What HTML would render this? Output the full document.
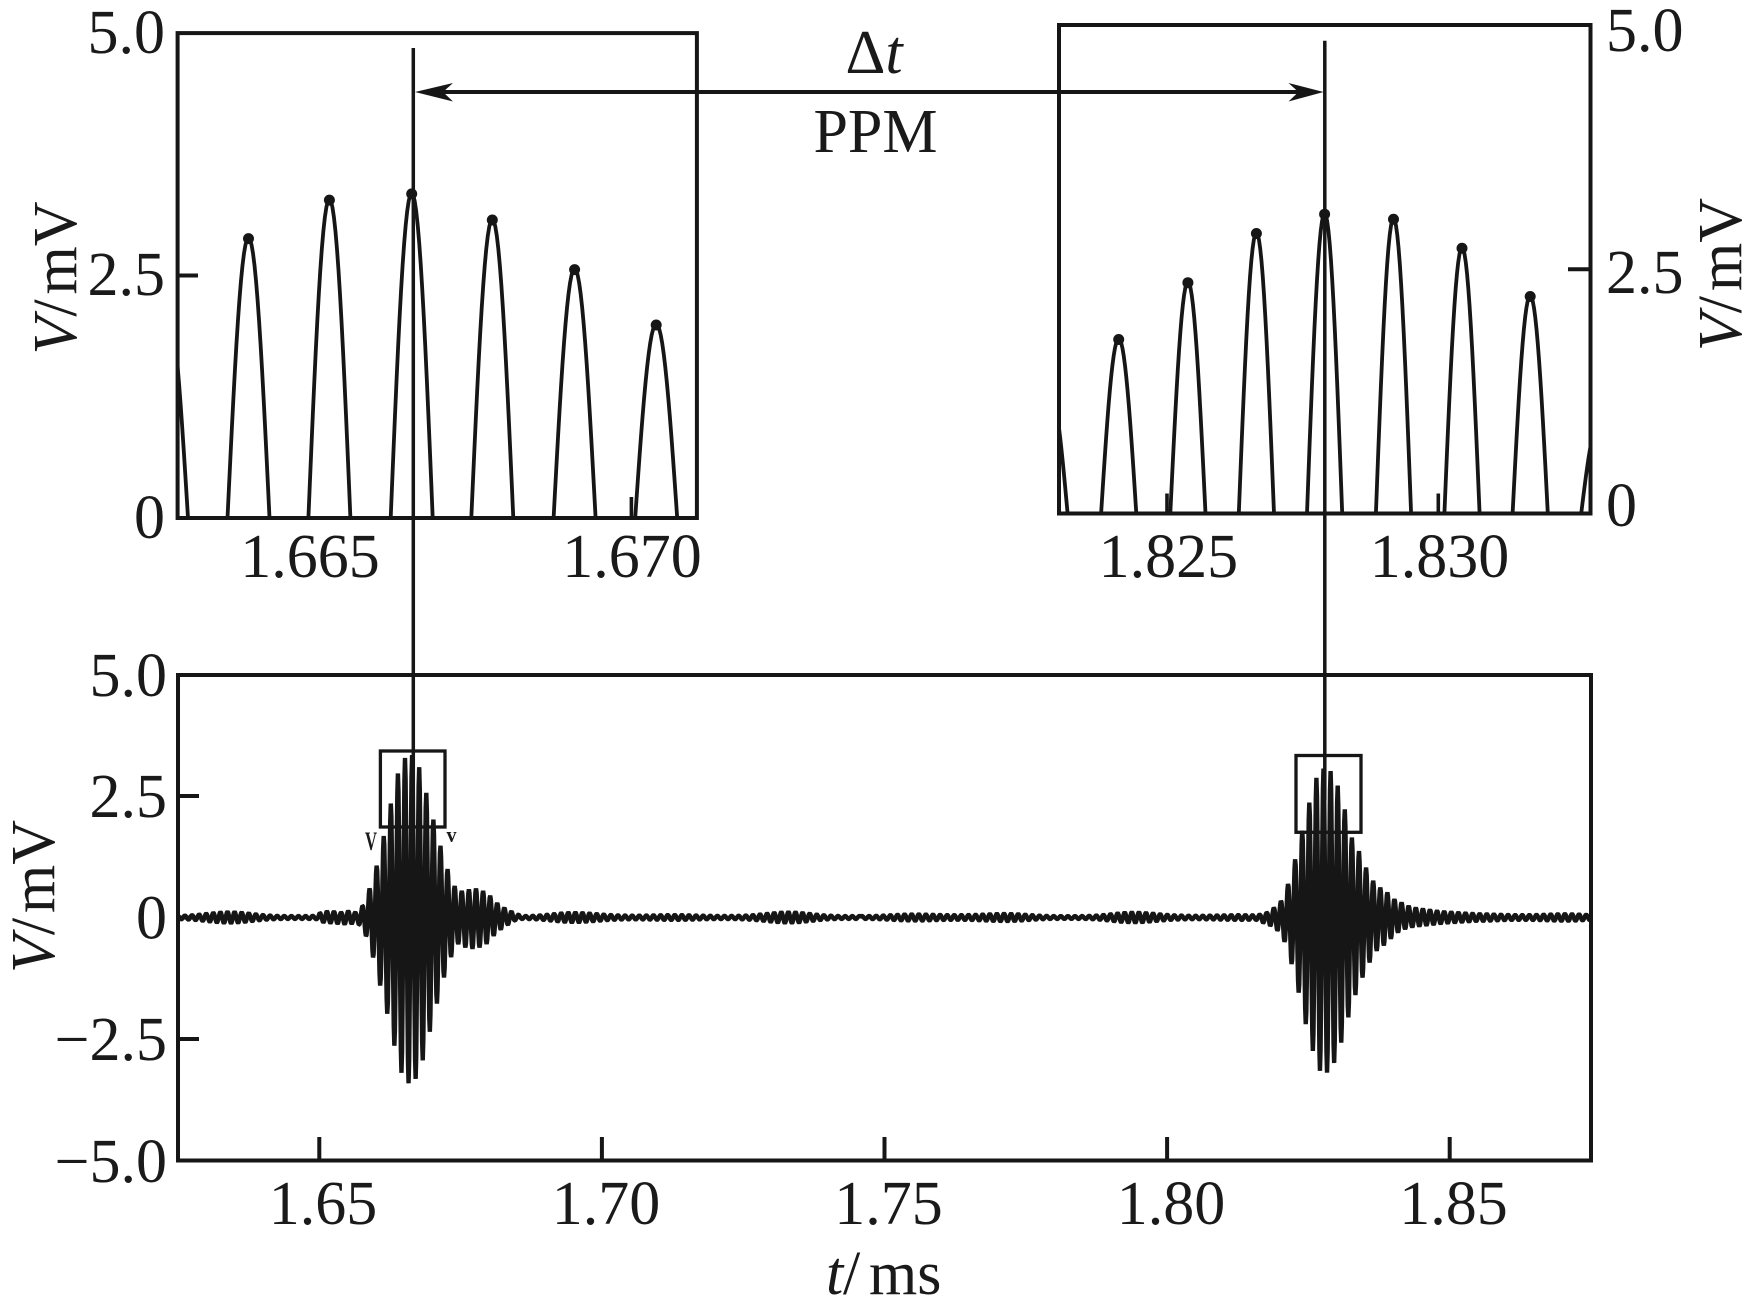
<!DOCTYPE html>
<html><head><meta charset="utf-8">
<style>
html,body{margin:0;padding:0;background:#fff;}
svg{display:block;}
text{font-family:"Liberation Serif","Times New Roman",serif;fill:#1a1a1a;font-size:62px;}
</style></head><body>
<svg id="s" width="1760" height="1313" viewBox="0 0 1760 1313" xmlns="http://www.w3.org/2000/svg">
<defs>
<clipPath id="cl"><rect x="178" y="33" width="519" height="485"/></clipPath>
<clipPath id="cr"><rect x="1059" y="25" width="531.5" height="488.5"/></clipPath>
<clipPath id="cm"><rect x="178" y="675" width="1413" height="485.5"/></clipPath>
</defs>
<rect x="0" y="0" width="1760" height="1313" fill="#fff"/>

<!-- signals -->
<path id="sig" clip-path="url(#cm)" fill="none" stroke="#161616" stroke-width="4.4" stroke-linejoin="bevel" d=""/>
<path id="insL" clip-path="url(#cl)" fill="none" stroke="#161616" stroke-width="3.8" stroke-linejoin="round" d=""/>
<path id="insR" clip-path="url(#cr)" fill="none" stroke="#161616" stroke-width="3.8" stroke-linejoin="round" d=""/>
<g id="dots" fill="#161616"></g>

<!-- frames & ticks -->
<g fill="none" stroke="#161616" stroke-width="4">
<rect x="177.6" y="33.1" width="519.3" height="484.9"/>
<rect x="1059" y="25" width="531.5" height="488.5"/>
<rect x="178" y="675" width="1413" height="485.5"/>
<path d="M178 796H199M178 1039H199M178 917.5H199"/>
<path d="M319.3 1160V1137M601.9 1160V1137M884.5 1160V1137M1167.1 1160V1137M1449.7 1160V1137"/>
<path d="M177.6 275.5H198"/>
<path d="M1590.5 269.3H1568"/>
</g>
<g fill="none" stroke="#161616" stroke-width="3.6">
<path d="M631.4 497V518M1167 493.5V513.5M1438.3 493.5V513.5"/>
</g>
<!-- vertical marker lines -->
<g fill="none" stroke="#161616" stroke-width="3.5">
<path d="M413.3 48V800"/>
<path d="M1324.8 40.7V800"/>
</g>
<!-- small boxes -->
<g fill="none" stroke="#161616" stroke-width="3.3">
<rect x="380.4" y="751" width="64.6" height="76"/>
<rect x="1296" y="755.5" width="65" height="76.8"/>
</g>
<!-- arrow -->
<path d="M440 92H1300" stroke="#161616" stroke-width="4" fill="none"/>
<polygon points="415,92 453,83 443,92 453,101.5" fill="#161616"/>
<polygon points="1323.6,92 1288.5,83 1298.5,92 1288.5,101.5" fill="#161616"/>

<!-- small V marks -->
<text x="365" y="850" style="font-size:26px;font-weight:bold" textLength="12" lengthAdjust="spacingAndGlyphs">V</text>
<text x="446.5" y="842" style="font-size:22px;font-weight:bold" textLength="10" lengthAdjust="spacingAndGlyphs">v</text>

<!-- main axis labels -->
<g text-anchor="end">
<text x="167" y="696">5.0</text>
<text x="167" y="817">2.5</text>
<text x="167" y="938.5">0</text>
<text x="167" y="1060">−2.5</text>
<text x="167" y="1182">−5.0</text>
</g>
<g text-anchor="middle">
<text x="323" y="1224">1.65</text>
<text x="606" y="1224">1.70</text>
<text x="888.5" y="1224">1.75</text>
<text x="1171" y="1224">1.80</text>
<text x="1453.5" y="1224">1.85</text>
</g>
<text x="826" y="1294" font-style="italic">t</text>
<text x="843" y="1294">/</text>
<text x="869" y="1294">ms</text>
<text transform="translate(54,896.5) rotate(-90)" text-anchor="middle"><tspan font-style="italic">V</tspan>/<tspan dx="5">mV</tspan></text>

<!-- left inset labels -->
<g text-anchor="end">
<text x="165" y="53">5.0</text>
<text x="165" y="295">2.5</text>
<text x="165" y="538">0</text>
</g>
<g text-anchor="middle">
<text x="310" y="577">1.665</text>
<text x="632" y="577">1.670</text>
<text x="1168.4" y="577">1.825</text>
<text x="1439.5" y="577">1.830</text>
</g>
<text transform="translate(76,278) rotate(-90)" text-anchor="middle"><tspan font-style="italic">V</tspan>/<tspan dx="5">mV</tspan></text>

<!-- right inset labels -->
<g text-anchor="start">
<text x="1606" y="51">5.0</text>
<text x="1606" y="293">2.5</text>
<text x="1606" y="526">0</text>
</g>
<text transform="translate(1741,274.6) rotate(-90)" text-anchor="middle"><tspan font-style="italic">V</tspan>/<tspan dx="5">mV</tspan></text>

<!-- annotation -->
<text x="874" y="73" text-anchor="middle">Δ<tspan font-style="italic">t</tspan></text>
<text x="875.5" y="152" text-anchor="middle">PPM</text>
</svg>
<script>
(function(){
var P=7.1, Y0=917.5, K=48.5;
function interp(arr,x){
  if(x<=arr[0][0]) return arr[0][1];
  var n=arr.length; if(x>=arr[n-1][0]) return arr[n-1][1];
  for(var i=1;i<n;i++){ if(x<=arr[i][0]){ var a=arr[i-1],b=arr[i]; return a[1]+(b[1]-a[1])*(x-a[0])/(b[0]-a[0]); } }
  return 0;
}
var posL=[[178,0],[316,0],[320,0.1],[330,0.14],[340,0.1],[350,0.14],[356,0.1],[362,0.22],[369.5,0.6],[376.6,1.07],[383.7,1.68],[390.8,2.35],[397.9,2.97],[405,3.29],[412.1,3.35],[419.2,3.1],[426.3,2.57],[433.4,2.02],[440.5,1.48],[447.6,1.0],[454.7,0.65],[461.8,0.55],[468.9,0.58],[476,0.6],[483.1,0.55],[490.2,0.45],[497.3,0.3],[504.4,0.2],[512,0.12],[525,0]];
var negL=[[178,0],[316,0],[323,0.1],[344,0.14],[358,0.12],[365.9,0.38],[373,0.82],[380.1,1.4],[387.2,1.98],[394.3,2.64],[401.4,3.2],[408.5,3.42],[415.6,3.33],[422.7,2.95],[429.8,2.36],[436.9,1.78],[444,1.24],[451.1,0.82],[458.2,0.55],[465.3,0.62],[472.4,0.65],[479.5,0.62],[486.6,0.55],[493.7,0.38],[500.8,0.25],[508,0.15],[520,0]];
var posR=[[1245,0],[1259.6,0.06],[1266.7,0.1],[1273.8,0.2],[1280.9,0.34],[1288,0.69],[1295.1,1.2],[1302.2,1.79],[1309.3,2.37],[1316.4,2.88],[1323.5,3.07],[1330.6,3.02],[1337.7,2.72],[1344.8,2.23],[1351.9,1.65],[1359,1.37],[1366.1,1.03],[1373.2,0.76],[1380.3,0.62],[1387.4,0.52],[1394.5,0.38],[1401.6,0.31],[1408.7,0.24],[1415.8,0.2],[1440,0.13],[1460,0.1],[1490,0.06],[1500,0]];
var negR=[[1250,0],[1262,0.1],[1270.25,0.17],[1277.35,0.27],[1284.45,0.5],[1291.55,0.96],[1298.65,1.55],[1305.75,2.2],[1312.85,2.75],[1319.95,3.16],[1327.05,3.2],[1334.15,3.0],[1341.25,2.58],[1348.35,2.06],[1355.45,1.6],[1362.55,1.24],[1369.65,0.93],[1376.75,0.69],[1383.85,0.58],[1390.95,0.44],[1398.05,0.31],[1405.15,0.24],[1412.25,0.2],[1440,0.13],[1460,0.1],[1490,0.06],[1500,0]];
function noise(x){ var a=0.5+0.5*Math.sin(x*0.045+0.7)*Math.sin(x*0.011+2.1); return 0.03+0.09*a*a; }
var pts=[];
function addRange(peak0,x0,x1,pos,neg){
  var st=P/12;
  var i0=Math.ceil((x0-peak0)/st), i1=Math.floor((x1-peak0)/st);
  for(var i=i0;i<=i1;i++){
    var x=peak0+i*st;
    var v=Math.cos(2*Math.PI*(x-peak0)/P);
    var nz=noise(x);
    var a=v>0?Math.max(interp(pos,x),nz):Math.max(interp(neg,x),nz);
    pts.push([x,Y0-a*v*K]);
  }
}
addRange(405,176,860,posL,negL);
addRange(1323.5,860,1593,posR,negR);
var d='';
for(var j=0;j<pts.length;j++){ d+=(j?'L':'M')+pts[j][0].toFixed(2)+' '+pts[j][1].toFixed(2); }
document.getElementById('sig').setAttribute('d',d);

function arches(peaks,base,h){
  var dd='';
  for(var k=0;k<peaks.length;k++){
    var p=peaks[k][0], V=base-peaks[k][1];
    var n=30;
    for(var i=0;i<=n;i++){
      var t=-1.08+2.16*i/n;
      var x=p+t*h;
      var y=base-V*Math.cos(Math.PI/2*t);
      dd+=(i?'L':'M')+x.toFixed(2)+' '+y.toFixed(2);
    }
  }
  return dd;
}
var pkL=[[248.5,237.6],[329.4,199.1],[411.7,192.9],[492.3,219],[574.6,268.6],[656.2,324]];
var pkR=[[1118.7,338.5],[1187.9,281.7],[1256.4,232.5],[1324.6,213.2],[1393.5,218.3],[1462,247.3],[1530.2,295.5]];
document.getElementById('insL').setAttribute('d',arches([[167,301.7]].concat(pkL),518,21));
document.getElementById('insR').setAttribute('d',arches([[1050,390.4]].concat(pkR).concat([[1598.8,422.6]]),513.5,17.6));
var g=document.getElementById('dots'), ns='http://www.w3.org/2000/svg';
var all=pkL.concat(pkR);
for(var m=0;m<all.length;m++){
  var c=document.createElementNS(ns,'circle');
  c.setAttribute('cx',all[m][0]); c.setAttribute('cy',all[m][1]+1); c.setAttribute('r','5.5');
  g.appendChild(c);
}
})();
</script>
</body></html>
